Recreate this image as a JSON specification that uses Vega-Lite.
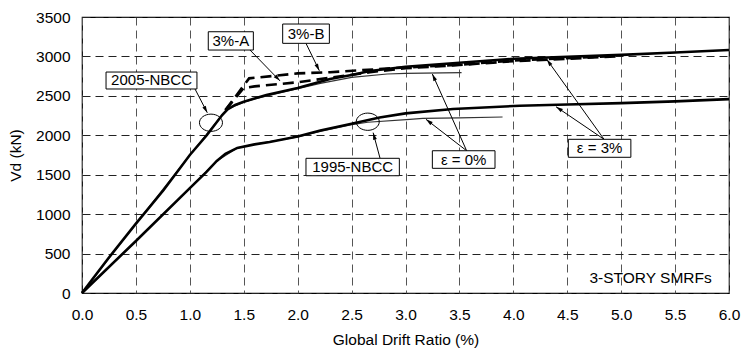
{
  "$schema": "https://vega.github.io/schema/vega-lite/v6.json",
  "width": 647,
  "height": 276,
  "autosize": "none",
  "padding": {"left": 82, "top": 17, "right": 12, "bottom": 63},
  "background": "white",
  "config": {
    "font": "Liberation Sans",
    "view": {"stroke": "#000", "strokeWidth": 1.2},
    "axis": {
      "grid": true,
      "gridDash": [8, 5],
      "gridWidth": 1,
      "domain": false,
      "ticks": false,
      "labelOverlap": false,
      "labelFont": "Liberation Sans",
      "labelFontSize": 15.5,
      "labelColor": "#000",
      "titleFont": "Liberation Sans",
      "titleFontSize": 15.5,
      "titleFontWeight": "normal",
      "titleColor": "#000"
    },
    "axisX": {"gridColor": "#555", "gridOpacity": 1},
    "axisY": {"gridColor": "#222", "gridOpacity": 1, "labelOverlap": false}
  },
  "datasets": {
    "curves": [
      {"curve": "2005-3", "x": 0, "y": 0},
      {"curve": "2005-3", "x": 0.1, "y": 180},
      {"curve": "2005-3", "x": 0.25, "y": 450},
      {"curve": "2005-3", "x": 0.5, "y": 880},
      {"curve": "2005-3", "x": 0.757, "y": 1306},
      {"curve": "2005-3", "x": 1.0, "y": 1750},
      {"curve": "2005-3", "x": 1.157, "y": 2000},
      {"curve": "2005-3", "x": 1.3, "y": 2257},
      {"curve": "2005-3", "x": 1.35, "y": 2330},
      {"curve": "2005-3", "x": 1.42, "y": 2385},
      {"curve": "2005-3", "x": 1.5, "y": 2426},
      {"curve": "2005-3", "x": 1.6, "y": 2465},
      {"curve": "2005-3", "x": 1.71, "y": 2510},
      {"curve": "2005-3", "x": 2.0, "y": 2600},
      {"curve": "2005-3", "x": 2.3, "y": 2715},
      {"curve": "2005-3", "x": 2.5, "y": 2765},
      {"curve": "2005-3", "x": 2.67, "y": 2815},
      {"curve": "2005-3", "x": 3.0, "y": 2870},
      {"curve": "2005-3", "x": 3.5, "y": 2920},
      {"curve": "2005-3", "x": 4.0, "y": 2970},
      {"curve": "2005-3", "x": 4.5, "y": 2995},
      {"curve": "2005-3", "x": 5.0, "y": 3020},
      {"curve": "2005-3", "x": 5.5, "y": 3050},
      {"curve": "2005-3", "x": 6.0, "y": 3081},

      {"curve": "2005-0", "x": 0, "y": 0},
      {"curve": "2005-0", "x": 0.5, "y": 880},
      {"curve": "2005-0", "x": 1.0, "y": 1750},
      {"curve": "2005-0", "x": 1.3, "y": 2257},
      {"curve": "2005-0", "x": 1.35, "y": 2330},
      {"curve": "2005-0", "x": 1.5, "y": 2420},
      {"curve": "2005-0", "x": 1.6, "y": 2460},
      {"curve": "2005-0", "x": 2.0, "y": 2590},
      {"curve": "2005-0", "x": 2.21, "y": 2659},
      {"curve": "2005-0", "x": 2.5, "y": 2735},
      {"curve": "2005-0", "x": 2.83, "y": 2777},
      {"curve": "2005-0", "x": 3.0, "y": 2786},
      {"curve": "2005-0", "x": 3.52, "y": 2795},

      {"curve": "3A", "x": 1.33, "y": 2320},
      {"curve": "3A", "x": 1.5, "y": 2600},
      {"curve": "3A", "x": 1.6, "y": 2620},
      {"curve": "3A", "x": 2.0, "y": 2672},
      {"curve": "3A", "x": 2.3, "y": 2730},
      {"curve": "3A", "x": 2.67, "y": 2800},
      {"curve": "3A", "x": 3.0, "y": 2850},
      {"curve": "3A", "x": 3.5, "y": 2891},
      {"curve": "3A", "x": 4.0, "y": 2940},
      {"curve": "3A", "x": 4.5, "y": 2970},
      {"curve": "3A", "x": 4.95, "y": 3000},

      {"curve": "3B", "x": 1.33, "y": 2320},
      {"curve": "3B", "x": 1.55, "y": 2722},
      {"curve": "3B", "x": 1.76, "y": 2751},
      {"curve": "3B", "x": 2.0, "y": 2785},
      {"curve": "3B", "x": 2.3, "y": 2800},
      {"curve": "3B", "x": 2.7, "y": 2835},
      {"curve": "3B", "x": 3.0, "y": 2860},
      {"curve": "3B", "x": 3.5, "y": 2895},
      {"curve": "3B", "x": 4.0, "y": 2948},
      {"curve": "3B", "x": 4.5, "y": 2978},
      {"curve": "3B", "x": 4.95, "y": 3005},

      {"curve": "1995-3", "x": 0, "y": 0},
      {"curve": "1995-3", "x": 0.5, "y": 660},
      {"curve": "1995-3", "x": 1.0, "y": 1330},
      {"curve": "1995-3", "x": 1.15, "y": 1530},
      {"curve": "1995-3", "x": 1.25, "y": 1675},
      {"curve": "1995-3", "x": 1.33, "y": 1765},
      {"curve": "1995-3", "x": 1.44, "y": 1840},
      {"curve": "1995-3", "x": 1.6, "y": 1885},
      {"curve": "1995-3", "x": 1.74, "y": 1915},
      {"curve": "1995-3", "x": 2.0, "y": 1985},
      {"curve": "1995-3", "x": 2.21, "y": 2060},
      {"curve": "1995-3", "x": 2.5, "y": 2145},
      {"curve": "1995-3", "x": 2.76, "y": 2225},
      {"curve": "1995-3", "x": 3.0, "y": 2278},
      {"curve": "1995-3", "x": 3.44, "y": 2333},
      {"curve": "1995-3", "x": 4.06, "y": 2375},
      {"curve": "1995-3", "x": 4.5, "y": 2390},
      {"curve": "1995-3", "x": 5.0, "y": 2408},
      {"curve": "1995-3", "x": 5.5, "y": 2430},
      {"curve": "1995-3", "x": 6.0, "y": 2458},

      {"curve": "1995-0", "x": 0, "y": 0},
      {"curve": "1995-0", "x": 0.5, "y": 660},
      {"curve": "1995-0", "x": 1.0, "y": 1330},
      {"curve": "1995-0", "x": 1.25, "y": 1675},
      {"curve": "1995-0", "x": 1.44, "y": 1840},
      {"curve": "1995-0", "x": 1.6, "y": 1885},
      {"curve": "1995-0", "x": 2.0, "y": 1980},
      {"curve": "1995-0", "x": 2.21, "y": 2050},
      {"curve": "1995-0", "x": 2.5, "y": 2135},
      {"curve": "1995-0", "x": 2.65, "y": 2165},
      {"curve": "1995-0", "x": 3.04, "y": 2202},
      {"curve": "1995-0", "x": 3.16, "y": 2215},
      {"curve": "1995-0", "x": 3.5, "y": 2222},
      {"curve": "1995-0", "x": 3.9, "y": 2232}
    ],
    "boxes": [
      {"label": "2005-NBCC", "x1": 0.223, "x2": 1.066, "y1": 2587, "y2": 2802, "cx": 0.645, "cy": 2695},
      {"label": "3%-A", "x1": 1.171, "x2": 1.589, "y1": 3081, "y2": 3313, "cx": 1.38, "cy": 3197},
      {"label": "3%-B", "x1": 1.861, "x2": 2.294, "y1": 3166, "y2": 3411, "cx": 2.078, "cy": 3288},
      {"label": "1995-NBCC", "x1": 2.077, "x2": 2.943, "y1": 1487, "y2": 1708, "cx": 2.51, "cy": 1597},
      {"label": "ε = 0%", "x1": 3.249, "x2": 3.83, "y1": 1581, "y2": 1804, "cx": 3.54, "cy": 1692},
      {"label": "ε = 3%", "x1": 4.51, "x2": 5.09, "y1": 1721, "y2": 1949, "cx": 4.8, "cy": 1835}
    ],
    "arrows": [
      {"sx": 1.048, "sy": 2587, "tx": 1.162, "ty": 2286},
      {"sx": 1.558, "sy": 3081, "tx": 1.836, "ty": 2690},
      {"sx": 2.077, "sy": 3166, "tx": 2.201, "ty": 2819},
      {"sx": 2.764, "sy": 1708, "tx": 2.7, "ty": 2033},
      {"sx": 3.567, "sy": 1804, "tx": 3.249, "ty": 2777},
      {"sx": 3.567, "sy": 1804, "tx": 3.19, "ty": 2202},
      {"sx": 4.841, "sy": 1949, "tx": 4.31, "ty": 2963},
      {"sx": 4.841, "sy": 1949, "tx": 4.396, "ty": 2362}
    ],
    "ellipses": [
      {"x": 1.196, "y": 2159},
      {"x": 2.65, "y": 2172}
    ],
    "notes": [
      {"label": "3-STORY SMRFs", "x": 5.84, "y": 127}
    ]
  },
  "layer": [
    {
      "data": {"name": "curves"},
      "transform": [{"filter": "datum.curve === '2005-0' || datum.curve === '1995-0'"}],
      "mark": {"type": "line", "color": "#333", "strokeWidth": 1.2},
      "encoding": {
        "x": {"field": "x", "type": "quantitative", "scale": {"domain": [0, 6], "nice": false},
          "axis": {"values": [0, 0.5, 1, 1.5, 2, 2.5, 3, 3.5, 4, 4.5, 5, 5.5, 6], "format": ".1f", "labelFlush": false, "labelOverlap": false, "labelPadding": 14, "title": "Global Drift Ratio (%)", "titlePadding": 10}},
        "y": {"field": "y", "type": "quantitative", "scale": {"domain": [0, 3500], "nice": false},
          "axis": {"tickCount": 7, "format": "d", "labelOverlap": false, "labelFlush": false, "labelPadding": 12, "title": "Vd (kN)", "titlePadding": 12}},
        "detail": {"field": "curve"},
        "order": {"field": "x", "type": "quantitative"}
      }
    },
    {
      "data": {"name": "curves"},
      "transform": [{"filter": "datum.curve === '3A' || datum.curve === '3B'"}],
      "mark": {"type": "line", "color": "#000", "strokeWidth": 2.6, "strokeDash": [11, 6]},
      "encoding": {
        "x": {"field": "x", "type": "quantitative"},
        "y": {"field": "y", "type": "quantitative"},
        "detail": {"field": "curve"},
        "order": {"field": "x", "type": "quantitative"}
      }
    },
    {
      "data": {"name": "curves"},
      "transform": [{"filter": "datum.curve === '2005-3' || datum.curve === '1995-3'"}],
      "mark": {"type": "line", "color": "#000", "strokeWidth": 2.6},
      "encoding": {
        "x": {"field": "x", "type": "quantitative"},
        "y": {"field": "y", "type": "quantitative"},
        "detail": {"field": "curve"},
        "order": {"field": "x", "type": "quantitative"}
      }
    },
    {
      "data": {"name": "ellipses"},
      "mark": {"type": "point", "shape": "M-1,0A1,0.75,0,1,0,1,0A1,0.75,0,1,0,-1,0Z", "size": 529, "filled": false, "stroke": "#000", "strokeWidth": 1, "opacity": 1},
      "encoding": {
        "x": {"field": "x", "type": "quantitative"},
        "y": {"field": "y", "type": "quantitative"}
      }
    },
    {
      "data": {"name": "arrows"},
      "mark": {"type": "rule", "color": "#000", "strokeWidth": 1},
      "encoding": {
        "x": {"field": "sx", "type": "quantitative"},
        "y": {"field": "sy", "type": "quantitative"},
        "x2": {"field": "tx"},
        "y2": {"field": "ty"}
      }
    },
    {
      "data": {"name": "arrows"},
      "transform": [{"calculate": "atan2((datum.tx - datum.sx) * 107.83, (datum.ty - datum.sy) * 0.07886) * 180 / PI", "as": "ang"}],
      "mark": {"type": "point", "shape": "M0,0L-0.55,2L0.55,2Z", "size": 49, "filled": true, "color": "#000", "opacity": 1},
      "encoding": {
        "x": {"field": "tx", "type": "quantitative"},
        "y": {"field": "ty", "type": "quantitative"},
        "angle": {"field": "ang", "type": "quantitative", "scale": null}
      }
    },
    {
      "data": {"name": "boxes"},
      "mark": {"type": "rect", "fill": "#fff", "stroke": "#000", "strokeWidth": 1},
      "encoding": {
        "x": {"field": "x1", "type": "quantitative"},
        "x2": {"field": "x2"},
        "y": {"field": "y1", "type": "quantitative"},
        "y2": {"field": "y2"}
      }
    },
    {
      "data": {"name": "boxes"},
      "mark": {"type": "text", "font": "Liberation Sans", "fontSize": 15, "color": "#000", "align": "center", "baseline": "middle"},
      "encoding": {
        "x": {"field": "cx", "type": "quantitative"},
        "y": {"field": "cy", "type": "quantitative"},
        "text": {"field": "label"}
      }
    },
    {
      "data": {"name": "notes"},
      "mark": {"type": "text", "font": "Liberation Sans", "fontSize": 15.5, "color": "#000", "align": "right", "baseline": "alphabetic"},
      "encoding": {
        "x": {"field": "x", "type": "quantitative"},
        "y": {"field": "y", "type": "quantitative"},
        "text": {"field": "label"}
      }
    }
  ]
}
